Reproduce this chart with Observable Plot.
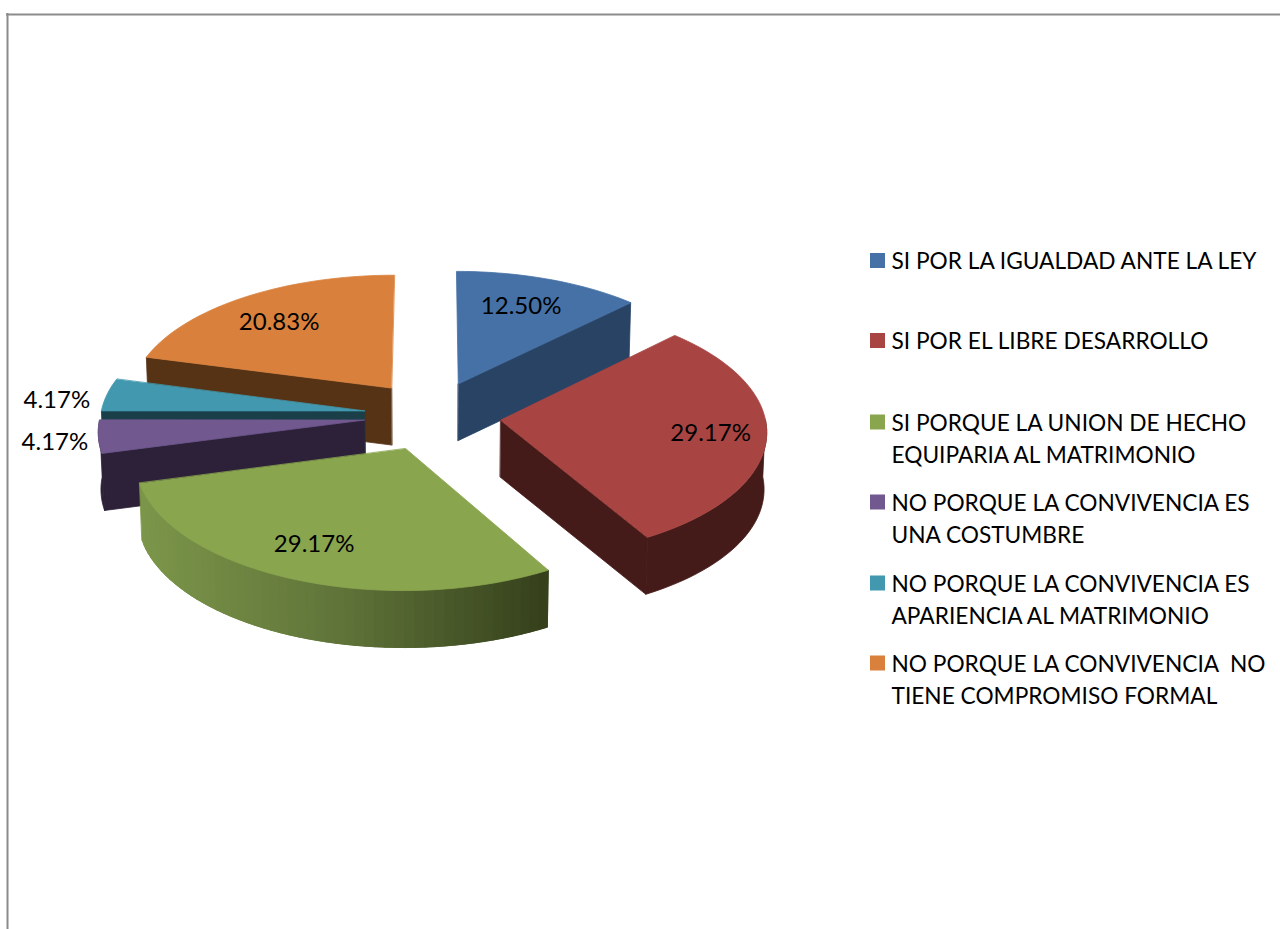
<!DOCTYPE html>
<html><head><meta charset="utf-8">
<style>html,body{margin:0;padding:0;background:#fff;overflow:hidden}svg{display:block}</style>
<script src="https://cdn.jsdelivr.net/npm/d3@7"></script>
<script src="https://cdn.jsdelivr.net/npm/@observablehq/plot@0.6"></script>
</head><body><div id="chart"></div>
<script>
const categories = [
  "SI POR LA IGUALDAD ANTE LA LEY",
  "SI POR EL LIBRE DESARROLLO",
  "SI PORQUE LA UNION DE HECHO\nEQUIPARIA AL MATRIMONIO",
  "NO PORQUE LA CONVIVENCIA ES\nUNA COSTUMBRE",
  "NO PORQUE LA CONVIVENCIA ES\nAPARIENCIA AL MATRIMONIO",
  "NO PORQUE LA CONVIVENCIA  NO\nTIENE COMPROMISO FORMAL"
];
const values = [12.5, 29.17, 29.17, 4.17, 4.17, 20.83];
const topColors = ["#4571a6", "#a84543", "#89a54e", "#71588f", "#4198af", "#d9813c"];
const wallColors = ["#284364", "#451b19", "#5f7339", "#2c2138", "#1b3f49", "#573316"];
const labelRadius = [0.70, 0.78, 0.735, 1.195, 1.185, 0.72];
const labelNudgeX = [-2, 3, -10, 9, -3, -5];
const labelNudgeY = [-3, 0, 2, 2, 9, 1];
const legendSwatchY = [260.5, 340.5, 422, 502, 583, 663];
const legendLines = [1, 1, 2, 2, 2, 2];
const paintOrder = [5, 0, 4, 3, 1, 2];
const greenRamp = ["#7c964a", "#5f7339", "#35401b"];

// projection of the tilted, exploded pie
const cx = 432, cy = 415, rx = 264, ry = 125.6, k = 0.077, explodeX = 0.26, explodeY = 0.28, depth = 57, step = 2;
const rad = (d) => d * Math.PI / 180;
const project = (X, Y, low = false) => {
  const f = 1 / (1 - k * Y);
  const s = low ? 0.992 : 1;
  return {x: cx + rx * X * f * s, y: cy + ry * Y * f + (low ? depth : 0)};
};
const total = d3.sum(values);
let acc = 0;
const slices = values.map((v, i) => {
  const a0 = acc / total * 360; acc += v;
  const a1 = acc / total * 360;
  const mid = rad((a0 + a1) / 2);
  return {i, a0, a1, ox: explodeX * Math.sin(mid), oy: -explodeY * Math.cos(mid), dx: Math.sin(mid), dy: -Math.cos(mid)};
});
const rim = (s, a, low) => project(s.ox + Math.sin(rad(a)), s.oy - Math.cos(rad(a)), low);
const apex = (s, low) => project(s.ox, s.oy, low);
const arcAngles = (a, b) => {
  const n = Math.max(1, Math.ceil((b - a) / step));
  return d3.range(n + 1).map((j) => a + (b - a) * j / n);
};

const faces = (s) => {
  const out = [];
  const top = topColors[s.i], wall = wallColors[s.i];
  const radial = (a) => ({color: wall, pts: [apex(s, false), rim(s, a, false), rim(s, a, true), apex(s, true)]});
  if (-Math.sin(rad(s.a0)) > 0.01) out.push(radial(s.a0));
  if (Math.sin(rad(s.a1)) > 0.01) out.push(radial(s.a1));
  // outer wall on the front half
  const lo = Math.max(s.a0, 90), hi = Math.min(s.a1, 270);
  if (hi > lo) {
    if (s.i === 2) {
      const ramp = d3.scaleLinear().domain([0, 0.5, 1]).range(greenRamp);
      const x0 = rim(s, hi, false).x, x1 = rim(s, lo, false).x;
      // strips run from the left end to the right end, each one overlapping the next
      const as = arcAngles(lo, hi).reverse();
      d3.pairs(as).forEach(([p, q]) => {
        const c = ramp((rim(s, (p + q) / 2, false).x - x0) / (x1 - x0));
        const over = Math.max(lo, q - step);
        out.push({color: c, pts: [rim(s, p, false), rim(s, over, false), rim(s, over, true), rim(s, p, true)]});
      });
    } else {
      const as = arcAngles(lo, hi);
      out.push({color: wall, pts: [...as.map((a) => rim(s, a, false)), ...as.slice().reverse().map((a) => rim(s, a, true))]});
    }
  }
  out.push({color: top, pts: [apex(s, false), ...arcAngles(s.a0, s.a1).map((a) => rim(s, a, false))]});
  return out;
};

const pieMarks = paintOrder.flatMap((i) => faces(slices[i])).map((f) =>
  Plot.line(f.pts, {x: "x", y: "y", fill: f.color, stroke: f.color, strokeWidth: 0.8, curve: "linear-closed"}));

const labels = slices.map((s) => {
  const r = labelRadius[s.i];
  const p = project(s.ox + r * s.dx, s.oy + r * s.dy);
  return {x: p.x + labelNudgeX[s.i], y: p.y + labelNudgeY[s.i], text: values[s.i].toFixed(2) + "%"};
});
const lineGap = 32;
const legend = categories.map((c, i) => ({
  name: c, swatchY: legendSwatchY[i], textY: legendSwatchY[i] + (legendLines[i] - 1) * lineGap / 2 - 2, color: topColors[i]
}));

const font = "Lato, 'Open Sans', sans-serif";
const chart = Plot.plot({
  width: 1280, height: 929, margin: 0,
  x: {domain: [0, 1280], range: [0, 1280], axis: null},
  y: {domain: [0, 929], range: [0, 929], axis: null},
  style: {background: "#fff", whiteSpace: "pre"},
  marks: [
    Plot.ruleY([14], {x1: 6, x2: 1280, stroke: "#8c8c8c", strokeWidth: 2}),
    Plot.ruleX([7], {y1: 13, y2: 929, stroke: "#8c8c8c", strokeWidth: 2}),
    ...pieMarks,
    Plot.text(labels, {x: "x", y: "y", text: "text", fontSize: 24, fontFamily: font, fill: "#000"}),
    Plot.rect(legend, {x1: () => 870, x2: () => 885, y1: (d) => d.swatchY - 7.5, y2: (d) => d.swatchY + 7.5, fill: "color"}),
    Plot.text(legend, {x: () => 891, y: "textY", text: "name", textAnchor: "start", lineAnchor: "middle", lineHeight: lineGap / 22.7, fontSize: 22.7, fontFamily: font, fill: "#000"})
  ]
});
document.getElementById("chart").append(chart);
</script></body></html>
